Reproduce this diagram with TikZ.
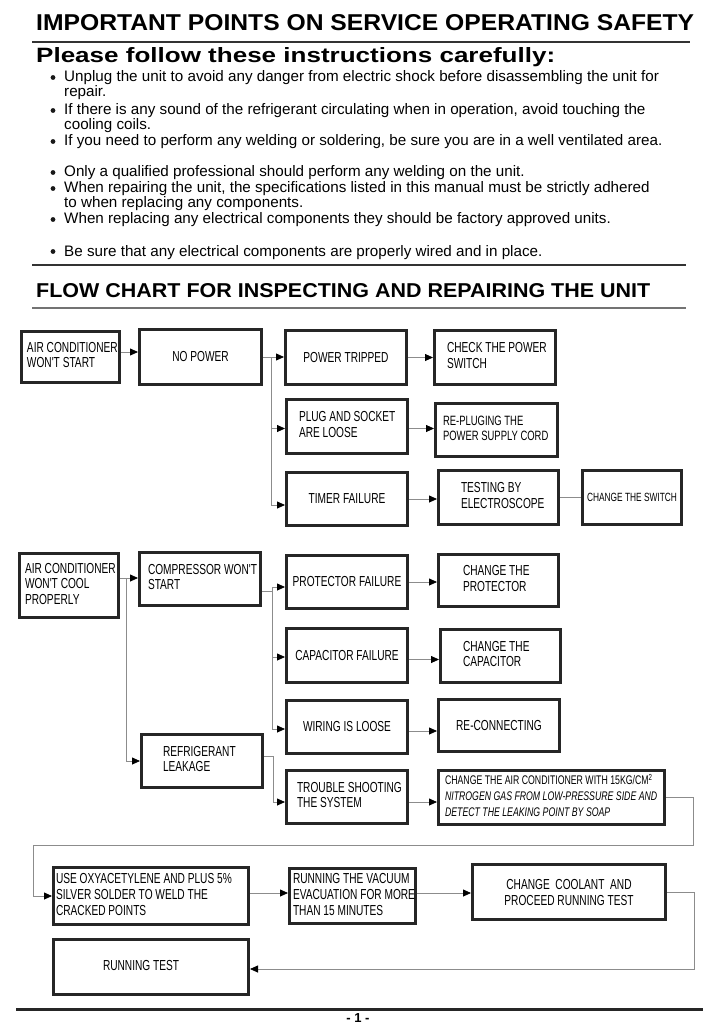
\documentclass[tikz,border=0pt]{standalone}
\usepackage{fontspec}
\usepackage{graphicx}
\setmainfont{Liberation Sans}
\newfontfamily\boxfont[FakeStretch=0.7]{Liberation Sans}
\usetikzlibrary{arrows.meta}
\newcommand\boxlines[1]{\spaceskip=0pt\xspaceskip=0pt\begin{tabular}{@{}l@{}}#1\end{tabular}}
\begin{document}
\begin{tikzpicture}[x=1pt,y=-1pt,
  box/.style={draw=black!85, line width=2.6pt, inner sep=0pt, align=center,
    font=\boxfont\fontsize{14.5}{15.5}\selectfont},
  wh/.style 2 args={minimum width=#1pt-2.6pt, minimum height=#2pt-2.6pt},
  lt/.style={text width=#1pt, align=left},
  conn/.style={draw=black!45, line width=0.8pt},
  arr/.style={conn, -{Triangle[length=8pt,width=7pt,color=black]}},
  body/.style={anchor=base west, inner sep=0pt, font=\fontsize{15.2}{17}\selectfont},
  head/.style={anchor=base west, inner sep=0pt, font=\bfseries},
  rule/.style={draw=black!80, line width=2pt},
  dot/.style={fill=black!90}]
\useasboundingbox[fill=white] (0,0) rectangle (714,1024);

% ---------- headings ----------
\node[head] (title) at (36,30.5) {\resizebox{658pt}{16pt}{IMPORTANT POINTS ON SERVICE OPERATING SAFETY}};
\draw[rule] (32,42) -- (690,42);
\node[head] (please) at (36,63) {\resizebox{519pt}{15pt}{Please follow these instructions carefully:}};

% ---------- bullet list ----------
\fill[dot] (53,77.5) circle (2.4pt);
\node[body] (l1) at (64,82) {Unplug the unit to avoid any danger from electric shock before disassembling the unit for};
\node[body] (l1b) at (64,97) {repair.};
\fill[dot] (53,110.5) circle (2.4pt);
\node[body] (l2) at (64,115) {If there is any sound of the refrigerant circulating when in operation, avoid touching the};
\node[body] (l2b) at (64,130) {cooling coils.};
\fill[dot] (53,141.5) circle (2.4pt);
\node[body] (l3) at (64,146) {If you need to perform any welding or soldering, be sure you are in a well ventilated area.};
\fill[dot] (53,172.5) circle (2.4pt);
\node[body] (l4) at (64,177) {Only a qualified professional should perform any welding on the unit.};
\fill[dot] (53,188.5) circle (2.4pt);
\node[body] (l5) at (64,193) {When repairing the unit, the specifications listed in this manual must be strictly adhered};
\node[body] (l5b) at (64,208) {to when replacing any components.};
\fill[dot] (53,219.5) circle (2.4pt);
\node[body] (l6) at (64,224) {When replacing any electrical components they should be factory approved units.};
\fill[dot] (53,251.5) circle (2.4pt);
\node[body] (l7) at (64,256) {Be sure that any electrical components are properly wired and in place.};
\draw[rule] (32,265) -- (686,265);

\node[head] (flow) at (36,297) {\resizebox{614pt}{14pt}{FLOW CHART FOR INSPECTING AND REPAIRING THE UNIT}};
\draw[draw=black!55, line width=1.2pt] (32,308) -- (686,308);

% ---------- row 1 ----------
\node[box,wh={101}{54},lt=87] (r1a) at (70.5,357) {\boxlines{AIR CONDITIONER\\WON'T START}};
\node[box,wh={125}{58}] (r1b) at (200.5,357) {NO POWER};
\node[box,wh={124}{57}] (r1c) at (346,357.5) {POWER TRIPPED};
\node[box,wh={124}{57},lt=96] (r1d) at (495,357.5) {\boxlines{CHECK THE POWER\\SWITCH}};
\node[box,wh={124}{57},lt=96] (r2c) at (347,426.5) {\boxlines{PLUG AND SOCKET\\ARE LOOSE}};
\node[box,wh={125}{56},lt=107,font=\boxfont\fontsize{13.5}{15.5}\selectfont] (r2d) at (496.5,430) {\boxlines{RE-PLUGING THE\\POWER SUPPLY CORD}};
\node[box,wh={124}{56}] (r3c) at (347,499) {TIMER FAILURE};
\node[box,wh={123}{57},lt=75] (r3d) at (498.5,497.5) {\boxlines{TESTING BY\\ELECTROSCOPE}};
\node[box,wh={102}{57},font=\boxfont\fontsize{11.9}{15}\selectfont] (r3e) at (632,497.5) {CHANGE THE SWITCH};

\draw[arr] ([yshift=5pt]r1a.east) -- ([yshift=5pt]r1a.east -| r1b.west);
\coordinate (j1) at (271,357);
\draw[conn] (r1b.east) -- (j1);
\draw[arr] (j1) -- (j1 -| r1c.west);
\draw[arr] (j1) |- ([yshift=-2pt]r2c.west);
\draw[arr] (j1) |- ([yshift=-6pt]r3c.west);
\draw[arr] (r1c.east) -- (r1c.east -| r1d.west);
\draw[arr] ([yshift=-2pt]r2c.east) -- ([yshift=-2pt]r2c.east -| r2d.west);
\draw[arr] (r3c.east) -- (r3c.east -| r3d.west);
\draw[conn] (r3d.east) -- (r3d.east -| r3e.west);

% ---------- row 2 ----------
\node[box,wh={102}{67},lt=88] (s1) at (69,585.5) {\boxlines{AIR CONDITIONER\\WON'T COOL\\PROPERLY}};
\node[box,wh={124}{56},lt=104] (s2) at (200,579) {\boxlines{COMPRESSOR WON'T\\START}};
\node[box,wh={124}{56},lt=78] (s3) at (202,761) {\boxlines{REFRIGERANT\\LEAKAGE}};
\node[box,wh={124}{56}] (p1) at (347,582) {PROTECTOR FAILURE};
\node[box,wh={124}{57}] (p2) at (347,655.5) {CAPACITOR FAILURE};
\node[box,wh={124}{56}] (p3) at (347,727) {WIRING IS LOOSE};
\node[box,wh={124}{56},lt=100] (p4) at (347,797) {\boxlines{TROUBLE SHOOTING\\THE SYSTEM}};
\node[box,wh={123}{55},lt=71] (q1) at (498.5,580.5) {\boxlines{CHANGE THE\\PROTECTOR}};
\node[box,wh={123}{56},lt=75] (q2) at (500.5,656) {\boxlines{CHANGE THE\\CAPACITOR}};
\node[box,wh={124}{55}] (q3) at (499,725.5) {RE-CONNECTING};
\node[box,wh={229}{57},lt=213,font=\boxfont\fontsize{12.5}{16}\selectfont] (q4) at (551.5,797.5)
  {\boxlines{CHANGE THE AIR CONDITIONER WITH 15KG/CM\textsuperscript{2}\\
   \itshape NITROGEN GAS FROM LOW-PRESSURE SIDE AND\\
   \itshape DETECT THE LEAKING POINT BY SOAP}};

\coordinate (k1) at (126,578);
\draw[arr] ([yshift=7.5pt]s1.east) -- ([yshift=7.5pt]s1.east -| s2.west);
\draw[arr] (k1) |- (s3.west);
\coordinate (k2) at (272,591);
\draw[conn] ([yshift=-12pt]s2.east) -- (k2);
\draw[arr] (k2) |- ([yshift=-5pt]p1.west);
\draw[arr] (k2) |- ([yshift=-1.5pt]p2.west);
\draw[arr] (k2) |- ([yshift=-2pt]p3.west);
\coordinate (k3) at (273,756);
\draw[conn] ([yshift=5pt]s3.east) -- (k3);
\draw[arr] (k3) |- ([yshift=-5pt]p4.west);
\draw[arr] (p1.east) -- (p1.east -| q1.west);
\draw[arr] ([yshift=-4pt]p2.east) -- ([yshift=-4pt]p2.east -| q2.west);
\draw[arr] ([yshift=-4pt]p3.east) -- ([yshift=-4pt]p3.east -| q3.west);
\draw[arr] ([yshift=-5pt]p4.east) -- ([yshift=-5pt]p4.east -| q4.west);

% ---------- bottom row ----------
\node[box,wh={198}{60},lt=190,font=\boxfont\fontsize{14.5}{16}\selectfont] (b1) at (151,896)
  {\boxlines{USE OXYACETYLENE AND PLUS 5\%\\SILVER SOLDER TO WELD THE\\CRACKED POINTS}};
\node[box,wh={129}{58},lt=119,font=\boxfont\fontsize{14.5}{16}\selectfont] (b2) at (352.5,896)
  {\boxlines{RUNNING THE VACUUM\\EVACUATION FOR MORE\\THAN 15 MINUTES}};
\node[box,wh={196}{58},font=\boxfont\fontsize{14.5}{16}\selectfont] (b3) at (569,892)
  {CHANGE~~COOLANT~~AND\\PROCEED RUNNING TEST};
\node[box,wh={198}{58},lt=96] (b4) at (151,967) {\boxlines{RUNNING TEST}};

\coordinate (m1) at (693,845);
\coordinate (m2) at (33,845);
\draw[arr] (q4.east) -| (m1) -- (m2) |- (b1.west);
\draw[arr] ([yshift=3pt]b1.east) -- ([yshift=3pt]b1.east -| b2.west);
\draw[arr] ([yshift=3pt]b2.east) -- ([yshift=3pt]b2.east -| b3.west);
\coordinate (m3) at (694,969);
\draw[arr] (b3.east) -| (m3) -- (m3 -| b4.east);

% ---------- footer ----------
\draw[draw=black!85, line width=3pt] (16,1009) -- (703,1009);
\node[anchor=base, inner sep=0pt, font=\bfseries\fontsize{13}{15}\selectfont] (page) at (358,1022) {- 1 -};
\end{tikzpicture}
\end{document}
